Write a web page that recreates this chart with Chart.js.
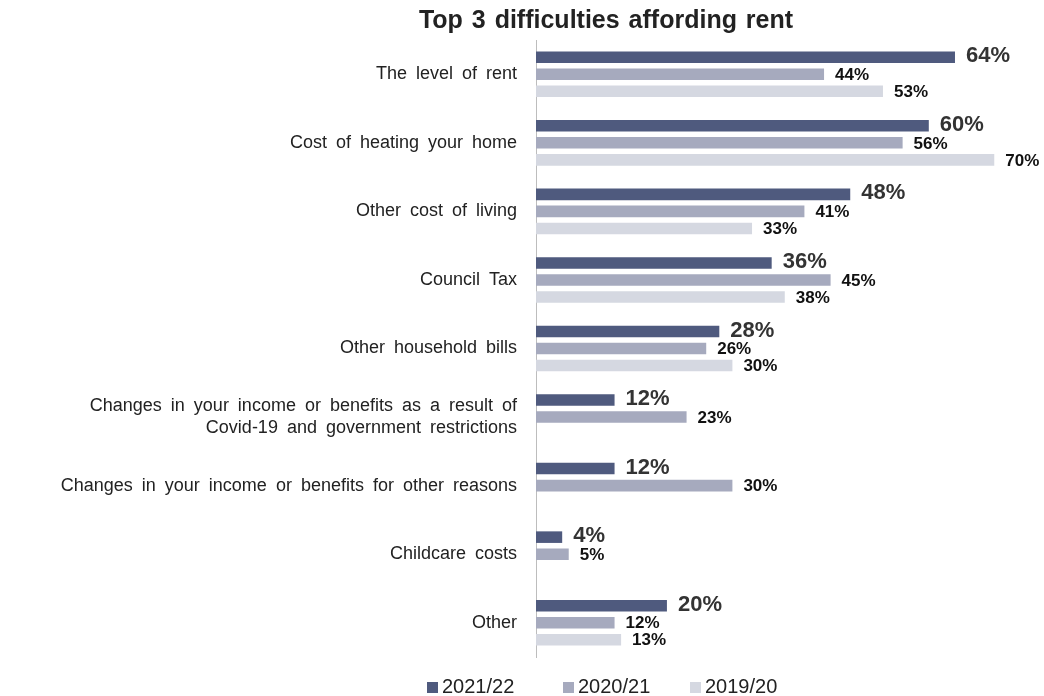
<!DOCTYPE html>
<html>
<head>
<meta charset="utf-8">
<script src="https://cdn.jsdelivr.net/npm/chart.js@4"></script>
<style>
  html, body { margin: 0; padding: 0; background: #fff; }
  #wrap { position: relative; width: 1044px; height: 696px; }
  #title {
    position: absolute; top: 5px; left: 606px; transform: translateX(-50%);
    font-family: "Liberation Sans", Arial, sans-serif; font-size: 25px; font-weight: bold;
    color: #222; white-space: nowrap; word-spacing: 2px; line-height: 28px;
  }
  #legend {
    position: absolute; top: 676px; left: 0; width: 1044px; height: 20px;
    font-family: "Liberation Sans", Arial, sans-serif; font-size: 20px; color: #222;
  }
  #legend span.item { position: absolute; top: 0; line-height: 20px; white-space: nowrap; }
  #legend span.box { display: inline-block; width: 11px; height: 11px; margin-right: 4px; vertical-align: 0px; }
</style>
</head>
<body>
<div id="wrap">
  <canvas id="chart" width="1044" height="696"></canvas>
  <div id="title">Top 3 difficulties affording rent</div>
  <div id="legend"></div>
</div>
<script>
// categories (multi-line labels as arrays)
const categories = [
    'The level of rent',
    'Cost of heating your home',
    'Other cost of living',
    'Council Tax',
    'Other household bills',
    ['Changes in your income or benefits as a result of', 'Covid-19 and government restrictions'],
    'Changes in your income or benefits for other reasons',
    'Childcare costs',
    'Other'
];

const seriesNames = ['2021/22', '2020/21', '2019/20'];
const values2122 = [64, 60, 48, 36, 28, 12, 12, 4, 20];
const values2021 = [44, 56, 41, 45, 26, 23, 30, 5, 12];
const values1920 = [53, 70, 33, 38, 30, null, null, null, 13];
const seriesColors = ['#4f5a7e', '#a6aabe', '#d5d8e1'];

// the source renders words with wide gaps; apply it to the axis text only
const wordGapPlugin = {
    id: 'wordGap',
    beforeDraw: (chart) => { chart.ctx.wordSpacing = '4px'; },
    beforeDatasetsDraw: (chart) => { chart.ctx.wordSpacing = '0px'; }
};

// ---- labels at the end of each bar ----
const barLabelPlugin = {
    id: 'barLabels',
    afterDatasetsDraw: (chart) => {
        const { ctx } = chart;
        chart.data.datasets.forEach((ds, i) => {
            const meta = chart.getDatasetMeta(i);
            meta.data.forEach((bar, j) => {
                const v = ds.data[j];
                if (v === null || v === undefined) return;
                ctx.save();
                if (i === 0) {
                    ctx.font = 'bold 22px "Liberation Sans", Arial, sans-serif';
                    ctx.fillStyle = '#333333';
                } else {
                    ctx.font = 'bold 17px "Liberation Sans", Arial, sans-serif';
                    ctx.fillStyle = '#111111';
                }
                ctx.textBaseline = 'middle';
                ctx.textAlign = 'left';
                ctx.fillText(v + '%', bar.x + 11, bar.y + (i === 0 ? -1 : 1));
                ctx.restore();
            });
        });
    }
};

const ctx = document.getElementById('chart').getContext('2d');
new Chart(ctx, {
    type: 'bar',
    data: {
        labels: categories,
        datasets: [
            { label: seriesNames[0], data: values2122, backgroundColor: seriesColors[0] },
            { label: seriesNames[1], data: values2021, backgroundColor: seriesColors[1] },
            { label: seriesNames[2], data: values1920, backgroundColor: seriesColors[2] }
        ]
    },
    options: {
        indexAxis: 'y',
        responsive: false,
        animation: false,
        datasets: {
            bar: { categoryPercentage: 0.745, barPercentage: 0.68, borderWidth: 0 }
        },
        layout: { padding: { top: 40, right: 17, bottom: 39, left: 0 } },
        scales: {
            x: {
                display: false,
                min: 0,
                max: 75
            },
            y: {
                grid: { display: false, drawTicks: false },
                border: { display: true, color: '#bdbdbd', width: 1 },
                ticks: {
                    padding: 19,
                    color: '#222222',
                    font: { family: '"Liberation Sans", Arial, sans-serif', size: 18 }
                },
                afterFit: (scale) => { scale.width = 536; }
            }
        },
        plugins: {
            legend: { display: false },
            tooltip: { enabled: false },
            title: { display: false }
        }
    },
    plugins: [wordGapPlugin, barLabelPlugin]
});

// legend drawn as html, placed like the original
const legendLeft = [427, 563, 690];
const legendEl = document.getElementById('legend');
seriesNames.forEach((name, i) => {
    const item = document.createElement('span');
    item.className = 'item';
    item.style.left = legendLeft[i] + 'px';
    item.innerHTML = '<span class="box" style="background:' + seriesColors[i] + '"></span>' + name;
    legendEl.appendChild(item);
});
</script>
</body>
</html>
